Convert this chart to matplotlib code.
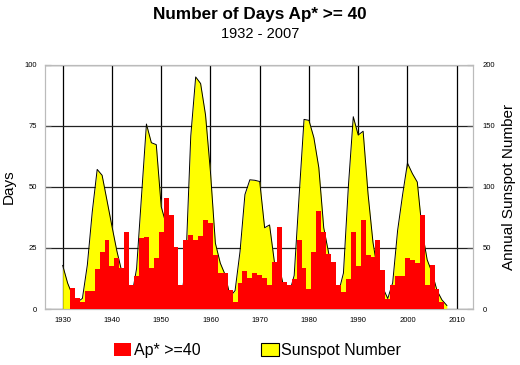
import matplotlib
matplotlib.use("Agg")
import matplotlib.pyplot as plt
from matplotlib.patches import Patch

plt.rcParams['font.family'] = ['Liberation Sans', 'DejaVu Sans']

# jours avec Ap* >= 40, 1932 - 2007
ap_years = list(range(1932, 2008))
ap_days = [
    8.5, 4.4, 3.0, 7.5, 7.5, 16.3, 23.5, 28.3,                     # 1932-1939
    17.7, 20.8, 16.7, 31.7, 9.8, 13.7, 29.2, 29.6, 16.7, 21.0,     # 1940-1949
    31.7, 45.4, 38.5, 25.5, 9.8, 28.3, 30.3, 28.3, 30.0, 36.5,     # 1950-1959
    35.1, 22.1, 14.6, 14.6, 7.8, 3.0, 10.5, 15.6, 12.6, 14.6,      # 1960-1969
    14.0, 12.6, 10.0, 19.4, 33.7, 11.2, 9.8, 12.3, 28.3, 17.0,     # 1970-1979
    8.0, 23.5, 40.3, 31.7, 22.5, 19.4, 9.8, 7.1, 12.3, 31.7,       # 1980-1989
    17.7, 36.5, 22.0, 21.4, 28.3, 16.0, 4.0, 9.8, 13.7, 13.7,      # 1990-1999
    20.8, 20.1, 19.0, 38.5, 10.0, 18.0, 8.0, 3.0,                  # 2000-2007
]

# liczba plam slonecznych (srednia roczna)
ss_years = list(range(1930, 2009))
ss_values = [
    35.7, 21.2, 11.1, 5.7, 8.7, 36.1, 79.7, 114.4, 109.6, 88.8,
    67.8, 47.5, 30.6, 16.3, 9.6, 33.2, 92.6, 151.6, 136.3, 134.7,
    83.9, 69.4, 31.5, 13.9, 4.4, 38.0, 141.7, 190.2, 184.8, 159.0,
    112.3, 53.9, 37.6, 27.9, 10.2, 15.1, 47.0, 93.8, 105.9, 105.5,
    104.5, 66.6, 68.9, 38.0, 34.5, 15.5, 12.6, 27.5, 92.5, 155.4,
    154.6, 140.4, 115.9, 66.6, 45.9, 17.9, 13.4, 29.4, 100.2, 157.6,
    142.6, 145.7, 94.3, 54.6, 29.9, 17.5, 8.6, 21.5, 64.3, 93.3,
    119.6, 111.0, 104.0, 63.7, 40.4, 29.8, 15.2, 7.5, 2.9,
]

decades = list(range(1930, 2011, 10))
left_ticks = [0, 25, 50, 75, 100]
right_ticks = [0, 50, 100, 150, 200]

fig = plt.figure(figsize=(5.2, 3.65), dpi=100)
ax = fig.add_axes([0.0865, 0.1534, 0.8235, 0.6686])
ax2 = ax.twinx()

# plamy na osi prawej, pod slupkami; siatka pod zoltym polem
ax2.set_axisbelow(True)
ax2.grid(True, axis='y', color='#222222', linewidth=0.9)
for d in decades:
    ax2.axvline(d, color='black', linewidth=0.9, zorder=0.5)
ax2.fill_between(ss_years, ss_values, color='#FFFF00', zorder=2, linewidth=0)
ax2.plot(ss_years, ss_values, color='black', linewidth=0.7, zorder=3)
ax2.set_ylim(0, 200)
ax2.set_yticks(right_ticks)
ax2.set_ylabel('Annual Sunspot Number', fontsize=11, labelpad=5)

ax.set_zorder(ax2.get_zorder() + 1)
ax.patch.set_visible(False)
ax.bar(ap_years, ap_days, width=1.0, color='#FF0000', linewidth=0, zorder=4)
ax.set_ylim(0, 100)
ax.set_yticks(left_ticks)
ax.set_xlim(1926.4, 2013.35)
ax.set_xticks(decades)
ax.set_ylabel('Days', fontsize=11, labelpad=6)

for a in (ax, ax2):
    for s in a.spines.values():
        s.set_color('#BBBBBB')
        s.set_linewidth(0.8)
ax.tick_params(axis='both', direction='in', length=4, color='#555555', labelsize=5.5, pad=6)
ax.tick_params(axis='x', length=0, pad=6)
ax2.tick_params(axis='y', direction='in', length=4, color='#555555', labelsize=5.5, pad=7)

fig.text(0.5, 0.96, 'Number of Days Ap* >= 40', ha='center', va='center',
         fontsize=12.3, fontweight='bold')
fig.text(0.5, 0.908, '1932 - 2007', ha='center', va='center', fontsize=10.5)

handles = [Patch(facecolor='#FF0000', edgecolor='none', label='Ap* >=40'),
           Patch(facecolor='#FFFF00', edgecolor='black', linewidth=0.8, label='Sunspot Number')]
fig.legend(handles=handles, loc='center', bbox_to_anchor=(0.495, 0.04), ncol=2, frameon=False,
           fontsize=11.5, handlelength=1.1, handleheight=0.9, handletextpad=0.15, columnspacing=3.8)

fig.savefig('out.png', dpi=100)
